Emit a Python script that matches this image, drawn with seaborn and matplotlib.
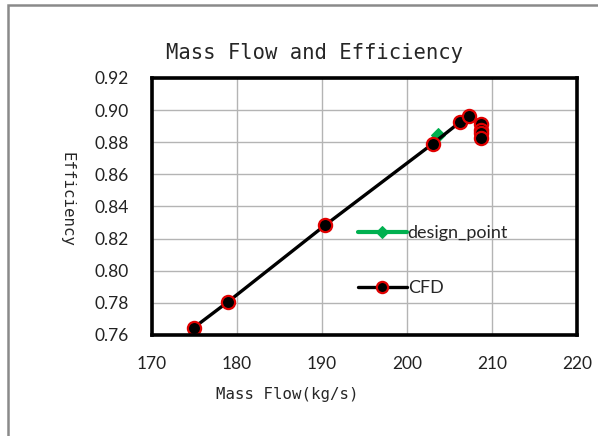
import matplotlib
matplotlib.use("Agg")
import matplotlib.pyplot as plt
from matplotlib import font_manager
from matplotlib.patches import Rectangle
import pandas as pd
import seaborn as sns

# ---------------------------------------------------------
# Data
# ---------------------------------------------------------
cfd_mass_flow = [174.9, 178.9, 190.4, 203.0, 206.2, 207.3, 208.7, 208.7, 208.7, 208.7]
cfd_efficiency = [0.7645, 0.7805, 0.8285, 0.8790, 0.8924, 0.8962, 0.8912, 0.8878, 0.8856, 0.8825]

design_mass_flow = [203.7]
design_efficiency = [0.8845]

x_ticks = [170, 180, 190, 200, 210, 220]
y_ticks = [0.76, 0.78, 0.80, 0.82, 0.84, 0.86, 0.88, 0.90, 0.92]

cfd = pd.DataFrame({"mass_flow": cfd_mass_flow, "efficiency": cfd_efficiency})
design = pd.DataFrame({"mass_flow": design_mass_flow, "efficiency": design_efficiency})

# ---------------------------------------------------------
# Fonts: half-width CJK mono for titles if present, else DejaVu Mono
# ---------------------------------------------------------
available = sorted({f.name for f in font_manager.fontManager.ttflist})
mono_cjk = [n for n in available if "Mono CJK" in n]
if mono_cjk:
    title_family = [mono_cjk[0], "DejaVu Sans Mono"]
    title_size, label_size = 17.5, 13.5
else:
    title_family = ["DejaVu Sans Mono"]
    title_size, label_size = 14.8, 11.3
num_family = ["Lato", "Liberation Sans", "DejaVu Sans"]

sns.set_style("white")
plt.rcParams["font.family"] = num_family

W, H = 598, 436
fig = plt.figure(figsize=(W / 100, H / 100), dpi=100)
ax = fig.add_axes([152 / W, 1 - 335 / H, (577 - 152) / W, (335 - 78) / H])

# design point first (sits under the CFD line)
sns.lineplot(
    data=design, x="mass_flow", y="efficiency", ax=ax,
    color="#00B050", marker="D", markersize=7.5, markeredgecolor="#00B050",
    linewidth=3, estimator=None, sort=False, label="design_point",
)
sns.lineplot(
    data=cfd, x="mass_flow", y="efficiency", ax=ax,
    color="black", marker="o", markersize=9.5, markerfacecolor="black",
    markeredgecolor="#E00000", markeredgewidth=1.6,
    linewidth=2.4, estimator=None, sort=False, label="CFD",
)

ax.set_xlim(170, 220)
ax.set_ylim(0.76, 0.92)
ax.set_xticks(x_ticks)
ax.set_yticks(y_ticks)
ax.set_xticklabels([str(t) for t in x_ticks])
ax.set_yticklabels([f"{t:.2f}" for t in y_ticks])
ax.tick_params(axis="both", length=0, labelsize=12.5, colors="#222222")
ax.tick_params(axis="y", pad=17)
ax.tick_params(axis="x", pad=15)
ax.grid(True, color="#b4b4b4", linewidth=1.0)
ax.set_axisbelow(True)
for s in ax.spines.values():
    s.set_color("black")
    s.set_linewidth(2.6)
ax.set_xlabel("")
ax.set_ylabel("")

leg = ax.legend(
    loc="upper left", bbox_to_anchor=(358 / W, 1 - 225 / H),
    bbox_transform=fig.transFigure, frameon=False, fontsize=13,
    handlelength=2.7, handletextpad=0.05, labelspacing=2.17,
    borderpad=0, borderaxespad=0, markerscale=0.85,
)

fig.text(315 / W, 1 - 53 / H, "Mass Flow and Efficiency", family=title_family,
         fontsize=title_size, ha="center", va="center")
fig.text(287 / W, 1 - 395 / H, "Mass Flow(kg/s)", family=title_family,
         fontsize=label_size, ha="center", va="center")
fig.text(67 / W, 1 - 199 / H, "Efficiency", family=title_family,
         fontsize=label_size, ha="center", va="center", rotation=270)

# chart area border
fig.patches.append(Rectangle((8 / W, -0.05), 1.2, 1 - 5 / H + 0.05,
                             transform=fig.transFigure, fill=False,
                             edgecolor="#8a8a8a", linewidth=1.8))

fig.savefig("out.png", dpi=100)
